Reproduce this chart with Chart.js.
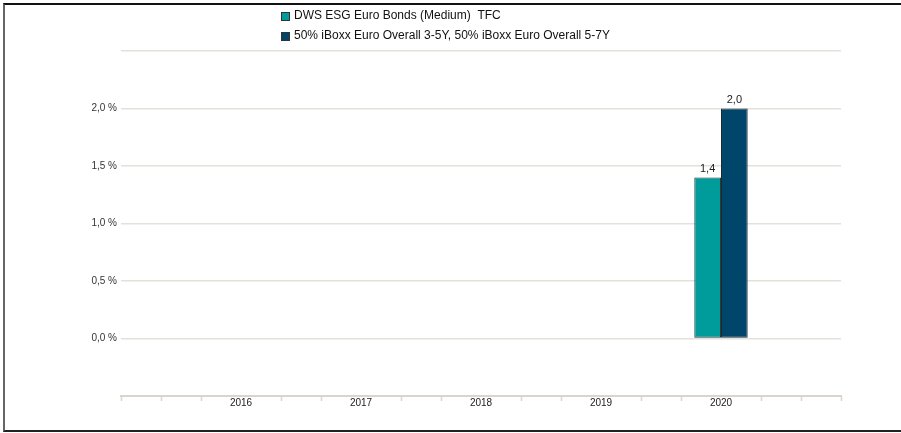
<!DOCTYPE html>
<html>
<head>
<meta charset="utf-8">
<title>Wertentwicklung</title>
<script src="https://cdn.jsdelivr.net/npm/chart.js"></script>
<style>
  body { margin: 0; overflow: hidden; background: #fff; }
  #wrap { position: relative; width: 901px; height: 433px; }
  #frame { position: absolute; left: 3px; top: 3px; right: -10px; bottom: 1px;
           border-top: 2px solid #111; border-left: 2px solid #666; border-bottom: 2px solid #222;
           pointer-events: none; }
</style>
</head>
<body>
<div id="wrap">
  <canvas id="barChart" width="901" height="433"></canvas>
  <div id="frame"></div>
</div>
<script>
    var years = ['2016', '2017', '2018', '2019', '2020'];
    var fundValues = [null, null, null, null, 1.4];
    var benchValues = [null, null, null, null, 2.0];
    var yTicks = [0, 0.5, 1.0, 1.5, 2.0];
    var seriesNames = [
        'DWS ESG Euro Bonds (Medium)  TFC',
        '50% iBoxx Euro Overall 3-5Y, 50% iBoxx Euro Overall 5-7Y'
    ];
    var barColors = ['#009c9c', '#00466a'];

    var axisColor = '#d9d5cc';
    var gridColor = '#e4e1da';

    function fmt(v) {
        return v.toFixed(1).replace('.', ',');
    }

    // blank slot on each side so the years sit 120px apart like the original
    var labels = [''].concat(years, ['']);
    function pad(arr) { return [null].concat(arr, [null]); }

    // small tick marks every third of a year along the x axis
    var axisTicks = {
        id: 'axisTicks',
        afterDraw: function(chart) {
            var x = chart.scales.x, ctx = chart.ctx;
            var n = (labels.length - 1) * 3;
            ctx.save();
            ctx.strokeStyle = axisColor;
            ctx.lineWidth = 1.5;
            for (var i = 0; i <= n; i++) {
                if (i % 3 === 0 && i > 0 && i < n) continue;
                var px = Math.round(x.getPixelForValue(i / 3)) + 0.5;
                ctx.beginPath();
                ctx.moveTo(px, x.top);
                ctx.lineTo(px, x.top + 5);
                ctx.stroke();
            }
            ctx.restore();
        }
    };

    var barLabels = {
        id: 'barLabels',
        afterDatasetsDraw: function(chart) {
            var ctx = chart.ctx;
            ctx.save();
            ctx.font = '11px "Liberation Sans", Arial, sans-serif';
            ctx.fillStyle = '#222';
            ctx.textAlign = 'center';
            ctx.textBaseline = 'bottom';
            chart.data.datasets.forEach(function(ds, di) {
                var meta = chart.getDatasetMeta(di);
                meta.data.forEach(function(el, i) {
                    if (ds.data[i] === null) return;
                    ctx.fillText(fmt(ds.data[i]), el.x, el.y - 3);
                });
            });
            ctx.restore();
        }
    };

    var stackedLegend = {
        id: 'stackedLegend',
        afterDraw: function(chart) {
            var ctx = chart.ctx;
            ctx.save();
            ctx.font = '12px "Liberation Sans", Arial, sans-serif';
            ctx.textBaseline = 'middle';
            chart.data.datasets.forEach(function(ds, di) {
                var y = 16 + di * 20;
                ctx.fillStyle = ds.backgroundColor;
                ctx.fillRect(281, y - 4, 8, 8);
                ctx.strokeStyle = '#333';
                ctx.lineWidth = 1;
                ctx.strokeRect(281.5, y - 3.5, 8, 8);
                ctx.fillStyle = '#111';
                ctx.fillText(ds.label, 294, y);
            });
            ctx.restore();
        }
    };

    Chart.defaults.font.family = '"Liberation Sans", Arial, sans-serif';

    var ctx = document.getElementById('barChart').getContext('2d');
    var barChart = new Chart(ctx, {
        type: 'bar',
        data: {
            labels: labels,
            datasets: [{
                label: seriesNames[0],
                data: pad(fundValues),
                backgroundColor: barColors[0],
                borderColor: '#2b3a3a',
                borderWidth: 1,
                borderSkipped: false
            }, {
                label: seriesNames[1],
                data: pad(benchValues),
                backgroundColor: barColors[1],
                borderColor: '#1d2a33',
                borderWidth: 1,
                borderSkipped: false
            }]
        },
        options: {
            responsive: false,
            animation: false,
            categoryPercentage: 0.445,
            barPercentage: 1.0,
            layout: { padding: { top: 51, right: 60, bottom: 0, left: 0 } },
            plugins: {
                legend: { display: false },
                tooltip: { enabled: false }
            },
            scales: {
                x: {
                    offset: false,
                    grid: { display: false, drawTicks: false },
                    border: { display: true, color: axisColor, width: 2 },
                    ticks: {
                        autoSkip: false,
                        maxRotation: 0,
                        padding: 1,
                        color: '#222',
                        font: { size: 10 }
                    },
                    afterFit: function(scale) { scale.height = 37; }
                },
                y: {
                    min: -0.5,
                    max: 2.5,
                    grid: {
                        drawTicks: false,
                        lineWidth: 1.5,
                        color: function(c) {
                            return c.tick && c.tick.value < 0 ? 'rgba(0,0,0,0)' : gridColor;
                        }
                    },
                    border: { display: false },
                    ticks: {
                        stepSize: 0.5,
                        padding: 4,
                        color: '#333',
                        font: { size: 10 },
                        callback: function(v) {
                            return yTicks.indexOf(v) >= 0 ? fmt(v) + ' %' : '';
                        }
                    },
                    afterFit: function(scale) { scale.width = 121; }
                }
            }
        },
        plugins: [axisTicks, barLabels, stackedLegend]
    });
</script>
</body>
</html>
